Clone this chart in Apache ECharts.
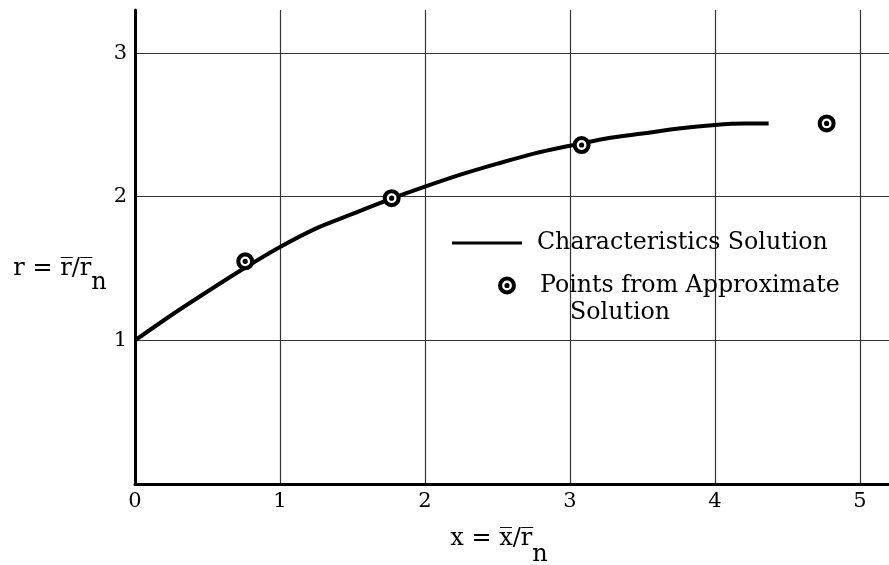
<!DOCTYPE html>
<html><head><meta charset="utf-8">
<script src="https://cdn.jsdelivr.net/npm/echarts@6/dist/echarts.min.js"></script>
<style>html,body{margin:0;padding:0;background:#fff}#c{width:889px;height:565px}</style>
</head><body><div id="c"></div>
<script>
// Characteristics solution (solid curve)
const curveX = [0, 0.25, 0.5, 0.75, 1, 1.25, 1.5, 1.75, 2, 2.25, 2.5, 2.75, 3, 3.25, 3.5, 3.75, 4, 4.2, 4.37];
const curveY = [1.0, 1.175, 1.34, 1.5, 1.65, 1.78, 1.88, 1.98, 2.07, 2.155, 2.23, 2.3, 2.355, 2.405, 2.44, 2.475, 2.5, 2.51, 2.51];
// Points from approximate solution
const pointX = [0.76, 1.77, 3.08, 4.77];
const pointY = [1.55, 1.99, 2.36, 2.51];
// tick labels
const xTicks = [0, 1, 2, 3, 4, 5];
const yTicks = [1, 2, 3];
const lineName = 'Characteristics Solution';
const pointName = 'Points from Approximate Solution';

const FONT = 'DejaVu Serif';
const curveData = curveX.map((x, i) => [x, curveY[i]]);
const pointData = pointX.map((x, i) => [x, pointY[i]]);
const ringPath = 'path://M9,0 A9,9 0 1,1 -9,0 A9,9 0 1,1 9,0 Z M4.9,0 A4.9,4.9 0 1,0 -4.9,0 A4.9,4.9 0 1,0 4.9,0 Z M2.6,0 A2.6,2.6 0 1,1 -2.6,0 A2.6,2.6 0 1,1 2.6,0 Z';

const chart = echarts.init(document.getElementById('c'), null, {renderer: 'canvas'});
chart.setOption({
  backgroundColor: '#fff',
  animation: false,
  grid: {left: 135, right: 0, top: 10, bottom: 81, containLabel: false},
  xAxis: {
    type: 'value', min: 0, max: 5.2, interval: 1,
    axisLine: {show: true, onZero: false, lineStyle: {color: '#000', width: 3}},
    axisTick: {show: false},
    axisLabel: {
      color: '#000', fontFamily: FONT, fontSize: 21, margin: 7, showMaxLabel: false,
      formatter: v => xTicks.includes(v) ? String(v) : ''
    },
    splitLine: {show: true, showMaxLine: false, lineStyle: {color: '#333', width: 1.2}}
  },
  yAxis: {
    type: 'value', min: 0, max: 3.3, interval: 1,
    axisLine: {show: true, onZero: false, lineStyle: {color: '#000', width: 3}},
    axisTick: {show: false},
    axisLabel: {
      color: '#000', fontFamily: FONT, fontSize: 21, margin: 8, showMaxLabel: false, showMinLabel: false,
      formatter: v => yTicks.includes(v) ? String(v) : ''
    },
    splitLine: {show: true, showMaxLine: false, lineStyle: {color: '#333', width: 1.2}}
  },
  legend: [
    {
      data: [{name: lineName, icon: 'rect'}], left: 452, top: 231, itemWidth: 70, itemHeight: 3,
      selectedMode: false, padding: 0,
      textStyle: {fontFamily: FONT, fontSize: 23.7, color: '#000', padding: [0, 0, 0, 10]}
    },
    {
      data: [{name: pointName, icon: ringPath}], left: 498, top: 245, itemWidth: 18, itemHeight: 18,
      selectedMode: false, padding: 0,
      formatter: () => '\nPoints from Approximate\n    Solution',
      textStyle: {fontFamily: FONT, fontSize: 23.7, lineHeight: 27, color: '#000', padding: [0, 0, 0, 19]}
    }
  ],
  graphic: [
    {
      type: 'text', x: 499, y: 539, silent: true,
      style: {
        text: '{a|x = x\u0305/r\u0305}{b|n}', align: 'center', verticalAlign: 'middle',
        rich: {
          a: {fontFamily: FONT, fontSize: 24, fill: '#000'},
          b: {fontFamily: FONT, fontSize: 24, fill: '#000', padding: [32, 0, 0, 0]}
        }
      }
    },
    {
      type: 'text', x: 60, y: 269, silent: true,
      style: {
        text: '{a|r = r\u0305/r\u0305}{b|n}', align: 'center', verticalAlign: 'middle',
        rich: {
          a: {fontFamily: FONT, fontSize: 24, fill: '#000'},
          b: {fontFamily: FONT, fontSize: 24, fill: '#000', padding: [28, 0, 0, 0]}
        }
      }
    }
  ],
  series: [
    {
      name: lineName, type: 'line', data: curveData, smooth: 0.3, symbol: 'none',
      lineStyle: {color: '#000', width: 4}, itemStyle: {color: '#000'}, z: 2, silent: true
    },
    {
      name: 'pointBackground', type: 'scatter', data: pointData, symbol: 'circle', symbolSize: 15,
      itemStyle: {color: '#fff', opacity: 1}, z: 3, silent: true
    },
    {
      name: pointName, type: 'scatter', data: pointData, symbol: ringPath, symbolSize: 18,
      itemStyle: {color: '#000', opacity: 1}, z: 4, silent: true
    }
  ]
});
</script>
</body></html>
